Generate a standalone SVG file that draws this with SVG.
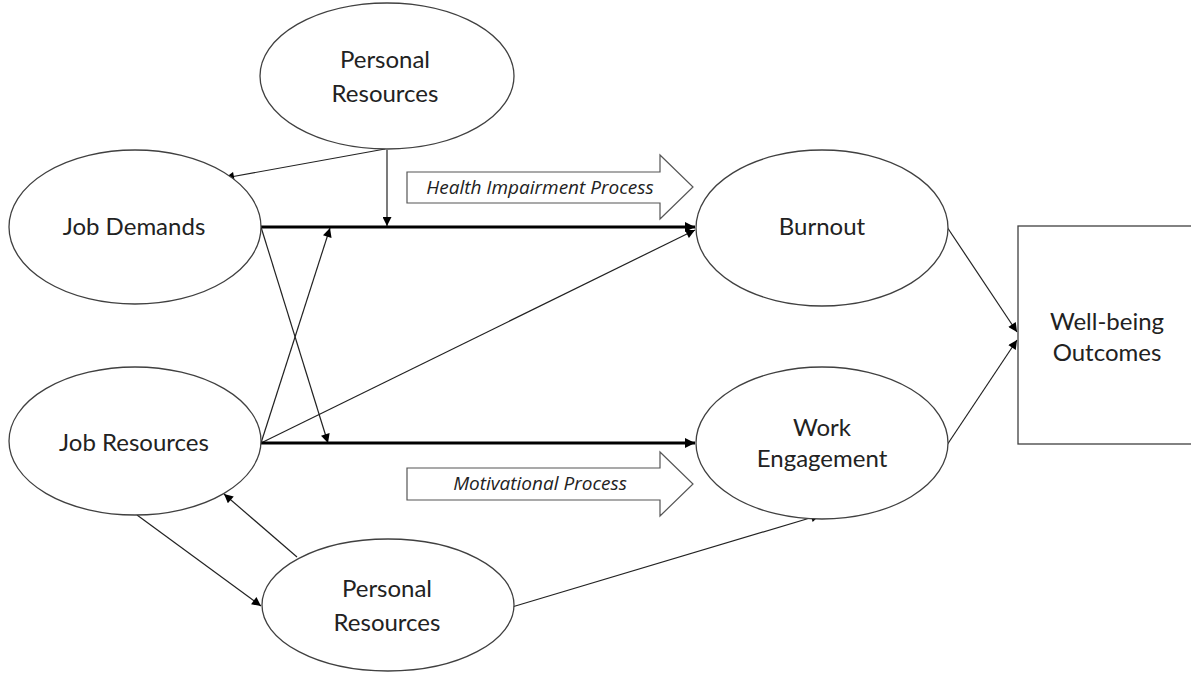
<svg xmlns="http://www.w3.org/2000/svg" width="1191" height="677" viewBox="0 0 1191 677">
<style>
.node{fill:#fff;stroke:#404040;stroke-width:1.3}
.lbl{font-family:Lato,"Open Sans",sans-serif;font-size:24px;fill:#222;text-anchor:middle}
.ital{font-family:"Open Sans",Lato,sans-serif;font-size:19px;font-style:italic;fill:#222;text-anchor:middle}
.thin{stroke:#222;stroke-width:1.2;fill:none;marker-end:url(#ah)}
.thick{stroke:#000;stroke-width:3.2;fill:none;marker-end:url(#ahb)}
.block{fill:#fff;stroke:#555;stroke-width:1.2}
</style>
<defs>
<marker id="ah" viewBox="0 0 10 10" refX="10" refY="5" markerWidth="11" markerHeight="9" markerUnits="userSpaceOnUse" orient="auto"><path d="M0,0 L10,5 L0,10 z" fill="#000"/></marker>
<marker id="ahb" viewBox="0 0 10 10" refX="10" refY="5" markerWidth="12" markerHeight="10" markerUnits="userSpaceOnUse" orient="auto"><path d="M0,0 L10,5 L0,10 z" fill="#000"/></marker>
</defs>
<rect width="1191" height="677" fill="#fff"/>
<g id="connectors">
<line class="thin" x1="385" y1="149" x2="225" y2="178"/>
<line class="thin" x1="387" y1="150" x2="387" y2="226"/>
<line class="thin" x1="261" y1="443" x2="330" y2="228"/>
<line class="thin" x1="261" y1="227" x2="328" y2="443"/>
<line class="thin" x1="261" y1="443" x2="695" y2="230"/>
<line class="thick" x1="261" y1="227" x2="695" y2="227"/>
<line class="thick" x1="261" y1="443" x2="695" y2="443"/>
<line class="thin" x1="947" y1="227" x2="1017" y2="332"/>
<line class="thin" x1="947" y1="445" x2="1017" y2="340"/>
<line class="thin" x1="137" y1="515" x2="261" y2="606"/>
<line class="thin" x1="297" y1="557" x2="224" y2="494"/>
<line class="thin" x1="512" y1="607" x2="820" y2="515"/>
</g>
<g id="health-impairment">
<path class="block" d="M407,172 H660 V155 L693,187 L660,219 V203 H407 Z"/>
<text class="ital" x="540" y="194">Health Impairment Process</text>
</g>
<g id="motivational">
<path class="block" d="M407,468 H660 V452 L693,484 L660,516 V500 H407 Z"/>
<text class="ital" x="540" y="490">Motivational Process</text>
</g>
<g id="personal-resources-top">
<ellipse class="node" cx="387" cy="76" rx="127" ry="73"/>
<text class="lbl" x="385" y="68">Personal</text>
<text class="lbl" x="385" y="102">Resources</text>
</g>
<g id="job-demands">
<ellipse class="node" cx="135" cy="227" rx="126" ry="77"/>
<text class="lbl" x="134" y="235">Job Demands</text>
</g>
<g id="job-resources">
<ellipse class="node" cx="135" cy="441" rx="126" ry="74"/>
<text class="lbl" x="134" y="451">Job Resources</text>
</g>
<g id="personal-resources-bottom">
<ellipse class="node" cx="388" cy="605" rx="126" ry="66"/>
<text class="lbl" x="387" y="597">Personal</text>
<text class="lbl" x="387" y="631">Resources</text>
</g>
<g id="burnout">
<ellipse class="node" cx="822" cy="228" rx="126" ry="78"/>
<text class="lbl" x="822" y="235">Burnout</text>
</g>
<g id="work-engagement">
<ellipse class="node" cx="822" cy="443" rx="126" ry="76"/>
<text class="lbl" x="822" y="436">Work</text>
<text class="lbl" x="822" y="467">Engagement</text>
</g>
<g id="well-being">
<rect class="node" x="1018" y="226" width="180" height="218"/>
<text class="lbl" x="1107" y="330">Well-being</text>
<text class="lbl" x="1107" y="361">Outcomes</text>
</g>
</svg>
